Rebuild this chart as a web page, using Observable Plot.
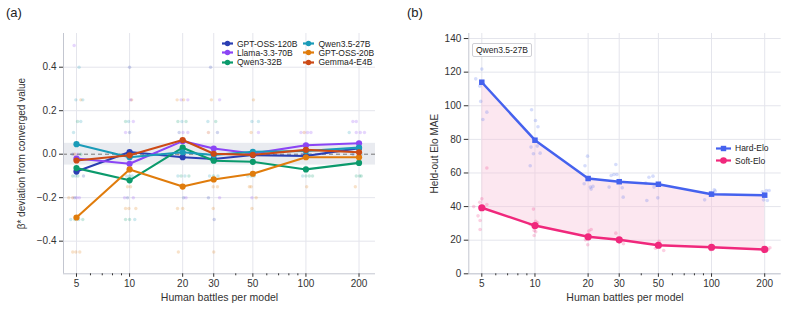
<!DOCTYPE html>
<html>
<head>
<meta charset="utf-8">
<script src="https://cdn.jsdelivr.net/npm/d3@7"></script>
<script src="https://cdn.jsdelivr.net/npm/@observablehq/plot@0.6"></script>
<style>
  body { margin: 0; background: #fff; font-family: "Liberation Sans", Arial, Helvetica, sans-serif; }
  #wrap { position: relative; width: 787px; height: 311px; overflow: hidden; }
  .panel { position: absolute; top: 0; }
  .tag { position: absolute; top: 5px; font-size: 13px; color: #222; }
  .legend { position: absolute; font-size: 8.5px; color: #222; }
  .legend .item { display: flex; align-items: center; height: 9.3px; white-space: nowrap; }
  .legend svg { margin-right: 4px; }
  .badge { position: absolute; font-size: 8.5px; color: #222; border: 1px solid #cfcfd4; border-radius: 2px;
           padding: 1px 3px; background: #fff; line-height: 10px; }
</style>
</head>
<body>
<div id="wrap">
  <div class="tag" style="left:6px">(a)</div>
  <div class="tag" style="left:407px">(b)</div>
  <div class="panel" id="panelA" style="left:0"></div>
  <div class="panel" id="panelB" style="left:395px"></div>
  <div class="legend" id="legendA" style="left:222px; top:39px; display:flex; gap:6px"></div>
  <div class="legend" id="legendB" style="left:716px; top:142px"></div>
  <div class="badge" style="left:472px; top:43px">Qwen3.5-27B</div>
</div>
<script>
// Human battles per model (log x axis) and minor tick positions
const battles = [5, 10, 20, 30, 50, 100, 200];
const minorTicks = [6, 7, 8, 9, 40, 60, 70, 80, 90];

// Panel (a): deviation of β* from its converged value, per judge model
const models = ["GPT-OSS-120B", "Llama-3.3-70B", "Qwen3-32B", "Qwen3.5-27B", "GPT-OSS-20B", "Gemma4-E4B"];
const modelColors = ["#2b3fb3", "#8b45f5", "#0b9a6c", "#1a9bb8", "#e07c0c", "#cc4a16"];
const gptOss120b = [-0.080, 0.010, -0.014, -0.022, -0.004, -0.008, 0.028];
const llama70b   = [-0.020, -0.044, 0.060, 0.026, 0.003, 0.041, 0.050];
const qwen3_32b  = [-0.064, -0.120, 0.030, -0.030, -0.035, -0.070, -0.040];
const qwen35_27b = [0.046, -0.014, 0.009, -0.004, 0.011, 0.015, 0.030];
const gptOss20b  = [-0.291, -0.070, -0.149, -0.116, -0.090, -0.014, -0.014];
const gemma4e4b  = [-0.029, -0.005, 0.065, 0.002, -0.003, 0.020, 0.009];
const betaSeries = [gptOss120b, llama70b, qwen3_32b, qwen35_27b, gptOss20b, gemma4e4b];

// Individual seeds: [battles (jittered), deviation, model index]
const betaSeeds = [
  [4.85, 0.5, 1], [5.17, 0.4, 3], [4.96, 0.25, 3], [5.29, 0.25, 4], [5.43, 0.25, 3],
  [5.07, 0.15, 2], [5.29, 0.15, 3], [4.81, 0.1, 3],
  [4.76, 0, 0], [4.89, 0, 5], [5.09, 0, 1], [5.29, 0, 2],
  [4.76, -0.1, 2], [4.92, -0.1, 3], [5.09, -0.1, 2], [5.48, -0.1, 0],
  [4.52, -0.2, 4], [4.76, -0.2, 5], [4.89, -0.2, 0], [5.02, -0.2, 1], [5.19, -0.2, 1],
  [4.64, -0.3, 3], [4.89, -0.3, 2], [5.15, -0.3, 3], [5.43, -0.3, 2],
  [4.76, -0.45, 4], [4.96, -0.45, 4], [5.22, -0.45, 4],
  [10, 0.4, 0], [10.27, 0.25, 5], [10.13, 0.25, 1],
  [9.49, 0.15, 2], [9.87, 0.15, 3], [10.5, 0.15, 1], [9.49, 0.1, 1], [10, 0.1, 0],
  [9.6, 0, 3], [10.27, 0, 2],
  [9.62, -0.1, 3], [10, -0.1, 2], [10.33, -0.1, 3], [9.74, -0.15, 4], [10.13, -0.15, 4],
  [9.37, -0.2, 1], [9.74, -0.2, 0], [10.5, -0.2, 1],
  [9.49, -0.25, 4], [9.91, -0.25, 4], [10.85, -0.25, 4],
  [9.49, -0.3, 2], [10, -0.3, 2], [10.7, -0.3, 3],
  [18.6, 0.25, 4], [19.6, 0.25, 1], [20.26, 0.25, 4], [21.4, 0.25, 1],
  [18.8, 0.15, 2], [19.8, 0.15, 3], [20.9, 0.15, 2],
  [19.1, 0.1, 0], [20.1, 0.1, 1], [21.4, 0.1, 1], [19.0, 0, 5], [20.3, 0, 0],
  [18.8, -0.1, 3], [19.6, -0.1, 2], [20.6, -0.1, 3], [21.7, -0.1, 2],
  [20.26, -0.2, 0], [20.9, -0.2, 1], [18.7, -0.25, 4], [20, -0.25, 4], [18.9, -0.45, 4],
  [28.8, 0.4, 0], [29.1, 0.25, 4], [32.4, 0.25, 1], [27.8, 0.15, 3], [30.8, 0.15, 2],
  [28.0, 0.1, 5], [31.5, 0.1, 0],
  [28.4, -0.1, 3], [29.9, -0.1, 2], [31.7, -0.1, 3], [29.8, -0.15, 4], [31.5, -0.15, 4],
  [28.0, -0.2, 0], [32.4, -0.2, 1], [29.8, -0.25, 4], [30.2, -0.3, 0], [30, -0.45, 4],
  [50.4, 0.25, 4], [49.4, 0.15, 3], [53.8, 0.15, 3], [48.9, 0.1, 4], [53.8, 0.1, 1],
  [46.8, -0.1, 3], [48.9, -0.1, 2], [51, -0.1, 3], [47.8, -0.15, 4], [48.9, -0.15, 4],
  [49.4, -0.2, 1], [52.2, -0.2, 4], [49.4, -0.25, 4],
  [93.7, 0.1, 1], [97.8, 0.1, 5], [102.2, 0.1, 1], [106.8, 0.1, 1], [95, 0, 0], [105, 0, 3],
  [95.8, -0.1, 3], [100, -0.1, 2], [104.5, -0.1, 2], [109, -0.1, 2], [101, -0.15, 4],
  [184.6, 0.15, 1], [193, 0.15, 1], [176, 0.1, 3], [193, 0.1, 1], [203.4, 0.1, 1], [214.8, 0.1, 1],
  [185, 0, 0], [206, 0, 3], [193, -0.1, 2], [201.6, -0.1, 2], [206, -0.1, 2], [190.6, -0.15, 4]
];

// Panel (b): held-out Elo MAE for Qwen3.5-27B
const hardElo = [114.0, 79.5, 56.7, 54.8, 53.3, 47.4, 46.8];
const softElo = [39.3, 28.7, 22.0, 20.2, 17.0, 15.8, 14.5];
const hardSeeds = [
  [4.62, 116], [5.0, 121.8], [4.87, 111.7], [4.93, 102.6], [5.34, 96.2], [5.07, 91.8],
  [9.57, 97.6], [10.07, 91.2], [10.4, 87.5], [9.5, 75.4], [10.3, 76], [9.8, 71.4], [10.7, 71.8], [9.4, 64.3],
  [19.85, 70], [19.2, 64.3], [19.0, 53.6], [20.6, 51.6], [20.8, 50.4], [21.3, 52],
  [28.7, 65], [28.0, 59.1], [29.1, 59.1], [27.0, 58.5], [26.3, 51.6], [31.2, 51.2], [31.6, 45.6],
  [46.6, 58.1], [44.2, 57.5], [47.2, 51.6], [43.0, 43.6], [49.6, 45.2], [42.4, 54],
  [103.6, 50], [105, 49.2], [91.4, 44], [99, 48.4],
  [204.5, 49.6], [207, 43.6], [194, 48.8], [197, 44], [212, 49.6]
];
const softSeeds = [
  [4.5, 40], [5.0, 44.6], [4.87, 42.6], [5.34, 41.2], [4.76, 34.5], [4.89, 31.7], [4.89, 26.4], [5.34, 63],
  [9.8, 38.5], [10.1, 31.3], [10.35, 30.3], [9.9, 25.8], [10.1, 25], [9.9, 22.8], [9.4, 29.3],
  [20.8, 26.4], [20.2, 25.4], [19.3, 20.2], [19.9, 17.3], [20.4, 22.8],
  [28.7, 24.2], [30, 18.8], [31.7, 17.9],
  [50.4, 19.4], [48.1, 15.2], [53.6, 13.9], [50.7, 17.9],
  [101, 15.5], [99, 14.3], [214, 15.5], [209, 14.5]
];

const yTicksA = [-0.4, -0.2, 0, 0.2, 0.4];
const yTicksB = [0, 20, 40, 60, 80, 100, 120, 140];
const xDomain = [4.22, 248];
const yDomainA = [-0.55, 0.555];
const yDomainB = [0, 143];

const hardColor = "#4562ee";
const softColor = "#f0287c";
const gridColor = "#e4e5ec";
const spineColor = "#c3c6d0";
const font = "'Liberation Sans', Arial, Helvetica, sans-serif";

// Shared log-x axis: major ticks with labels, unlabeled minor ticks, title
function xAxisMarks() {
  return [
    Plot.axisX(battles, {tickSize: 3.5, tickFormat: () => "", label: null, stroke: "#333"}),
    Plot.axisX(minorTicks, {tickSize: 2, tickFormat: () => "", label: null, stroke: "#333"}),
    Plot.text(battles, {x: d => d, frameAnchor: "bottom", lineAnchor: "top", dy: 6.5,
      text: d => String(d), fontSize: 10, fill: "#333"}),
    Plot.text(["Human battles per model"], {frameAnchor: "bottom", lineAnchor: "top", dy: 20,
      text: d => d, fontSize: 10.5, fill: "#333"})
  ];
}

// ---------- panel (a) ----------
const seedRows = betaSeeds.map(([n, dev, m]) => ({n, dev, model: models[m]}));
const lineMarks = betaSeries.flatMap((vals, i) => {
  const rows = battles.map((n, j) => ({n, dev: vals[j]}));
  return [
    Plot.line(rows, {x: "n", y: "dev", stroke: modelColors[i], strokeWidth: 2.1}),
    Plot.dot(rows, {x: "n", y: "dev", fill: modelColors[i], r: 3.1, stroke: "none"})
  ];
});

const band = [{x1: xDomain[0], x2: xDomain[1], lo: -0.05, hi: 0.05}];

const chartA = Plot.plot({
  width: 390, height: 311,
  marginLeft: 63, marginRight: 15, marginTop: 33, marginBottom: 37.7,
  style: {fontFamily: font, fontSize: "10px", color: "#333", background: "transparent"},
  x: {type: "log", domain: xDomain},
  y: {domain: yDomainA},
  color: {domain: models, range: modelColors},
  marks: [
    Plot.gridX(battles, {stroke: gridColor, strokeOpacity: 1, strokeWidth: 1}),
    Plot.gridY(yTicksA, {stroke: gridColor, strokeOpacity: 1, strokeWidth: 1}),
    Plot.rect(band, {x1: "x1", x2: "x2", y1: "lo", y2: "hi", fill: "#e9ebf0"}),
    Plot.ruleY([0], {stroke: "#777", strokeWidth: 1, strokeDasharray: "4,3"}),
    Plot.dot(seedRows, {x: "n", y: "dev", fill: "model", r: 1.7, fillOpacity: 0.22, stroke: "none"}),
    ...lineMarks,
    Plot.ruleX([xDomain[0]], {stroke: spineColor}),
    Plot.ruleY([yDomainA[0]], {stroke: spineColor}),
    ...xAxisMarks(),
    Plot.axisY(yTicksA, {tickSize: 4, tickPadding: 3, tickFormat: d3.format(".1f"), stroke: "#333",
      label: "β* deviation from converged value", labelAnchor: "center", labelArrow: false, labelOffset: 46, fontSize: 10})
  ]
});
document.getElementById("panelA").appendChild(chartA);

// ---------- panel (b) ----------
const eloRows = battles.map((n, j) => ({n, hard: hardElo[j], soft: softElo[j]}));
const hardRows = hardSeeds.map(([n, v]) => ({n, v}));
const softRows = softSeeds.map(([n, v]) => ({n, v}));

const chartB = Plot.plot({
  width: 392, height: 311,
  marginLeft: 73.3, marginRight: 6.3, marginTop: 33, marginBottom: 37.7,
  style: {fontFamily: font, fontSize: "10px", color: "#333", background: "transparent"},
  x: {type: "log", domain: xDomain},
  y: {domain: yDomainB},
  marks: [
    Plot.gridX(battles, {stroke: gridColor, strokeOpacity: 1, strokeWidth: 1}),
    Plot.gridY(yTicksB, {stroke: gridColor, strokeOpacity: 1, strokeWidth: 1}),
    Plot.areaY(eloRows, {x: "n", y1: "soft", y2: "hard", fill: "#f7c3da", fillOpacity: 0.4}),
    Plot.dot(hardRows, {x: "n", y: "v", fill: hardColor, r: 1.8, fillOpacity: 0.22, stroke: "none"}),
    Plot.dot(softRows, {x: "n", y: "v", fill: softColor, r: 1.8, fillOpacity: 0.22, stroke: "none"}),
    Plot.line(eloRows, {x: "n", y: "hard", stroke: hardColor, strokeWidth: 2.5}),
    Plot.dot(eloRows, {x: "n", y: "hard", fill: hardColor, symbol: "square", r: 3.1, stroke: "none"}),
    Plot.line(eloRows, {x: "n", y: "soft", stroke: softColor, strokeWidth: 2.5}),
    Plot.dot(eloRows, {x: "n", y: "soft", fill: softColor, r: 3.6, stroke: "none"}),
    Plot.ruleX([xDomain[0]], {stroke: spineColor}),
    Plot.ruleY([yDomainB[0]], {stroke: spineColor}),
    ...xAxisMarks(),
    Plot.axisY(yTicksB, {tickSize: 4.5, tickPadding: 3, tickFormat: d => String(d), stroke: "#333",
      label: "Held-out Elo MAE", labelAnchor: "center", labelArrow: false, labelOffset: 38, fontSize: 10})
  ]
});
document.getElementById("panelB").appendChild(chartB);

// ---------- legends ----------
function swatch(color, shape) {
  const w = shape ? 15 : 11;
  const cx = w / 2;
  const marker = shape === "square"
    ? `<rect x="${cx - 2.7}" y="0.8" width="5.4" height="5.4" fill="${color}"/>`
    : `<circle cx="${cx}" cy="3.5" r="${shape ? 3.3 : 2.7}" fill="${color}"/>`;
  return `<svg width="${w}" height="7" viewBox="0 0 ${w} 7"><line x1="0" y1="3.5" x2="${w}" y2="3.5" stroke="${color}" stroke-width="2.2"/>${marker}</svg>`;
}
const legA = document.getElementById("legendA");
[[0, 1, 2], [3, 4, 5]].forEach(col => {
  const c = document.createElement("div");
  col.forEach(i => {
    c.insertAdjacentHTML("beforeend", `<div class="item">${swatch(modelColors[i])}${models[i]}</div>`);
  });
  legA.appendChild(c);
});
const legB = document.getElementById("legendB");
legB.insertAdjacentHTML("beforeend", `<div class="item" style="height:12.6px">${swatch(hardColor, "square")}Hard-Elo</div>`);
legB.insertAdjacentHTML("beforeend", `<div class="item" style="height:12.6px">${swatch(softColor, "circle")}Soft-Elo</div>`);
</script>
</body>
</html>
